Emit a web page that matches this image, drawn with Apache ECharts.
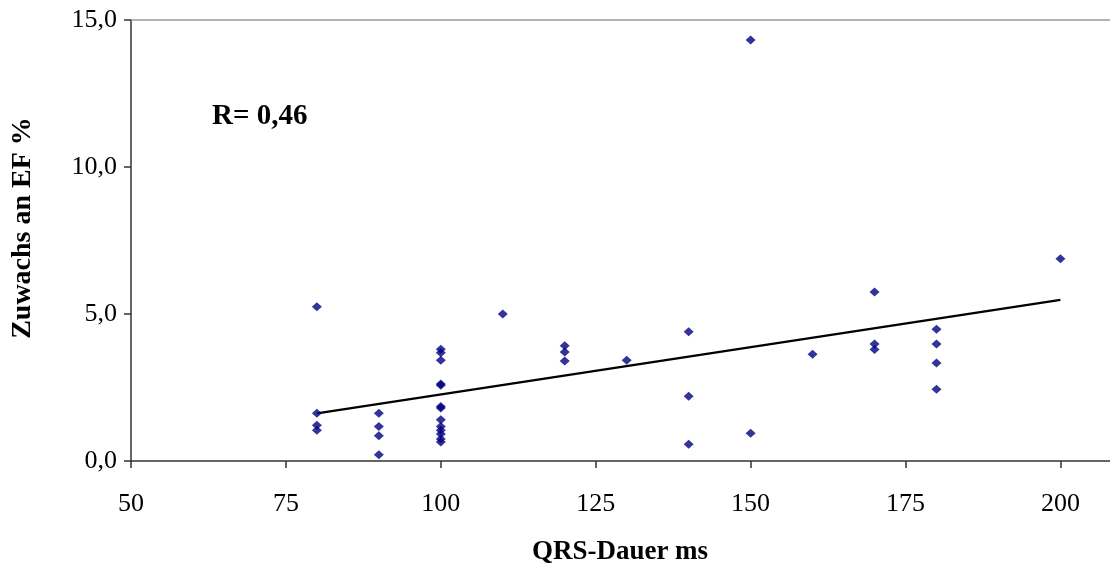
<!DOCTYPE html>
<html>
<head>
<meta charset="utf-8">
<script src="https://cdn.jsdelivr.net/npm/echarts@6/dist/echarts.min.js"></script>
<style>html,body{margin:0;padding:0;background:#fff}#c{width:1110px;height:567px}</style>
</head>
<body>
<div id="c"></div>
<script>
// QRS duration (ms) per patient
const xValues = [80,80,80,80, 90,90,90,90,
  100,100,100,100,100,100,100,100,100,100,100,100,100,
  110, 120,120,120, 130, 140,140,140, 150,150, 160,
  170,170,170, 180,180,180,180, 200];
// Increase in EF (%)
const yValues = [5.25,1.62,1.22,1.05, 1.62,1.17,0.86,0.21,
  3.80,3.68,3.43,2.62,2.58,1.85,1.80,1.40,1.17,1.05,0.92,0.75,0.65,
  5.00, 3.92,3.71,3.40, 3.43, 4.40,2.20,0.57, 14.32,0.94, 3.63,
  5.75,3.98,3.79, 4.48,3.98,3.33,2.44, 6.88];
// Linear trend line endpoints
const trendX = [80, 200];
const trendY = [1.62, 5.48];
const xTicks = [50, 75, 100, 125, 150, 175, 200];
const yTicks = [0, 5, 10, 15];
const rLabel = 'R= 0,46';
const xTitle = 'QRS-Dauer ms';
const yTitle = 'Zuwachs an EF %';

const font = "'Liberation Serif','Times New Roman',serif";
const points = xValues.map((x, i) => [x, yValues[i]]);
const trend = trendX.map((x, i) => [x, trendY[i]]);

const chart = echarts.init(document.getElementById('c'));
chart.setOption({
  animation: false,
  grid: {left: 131, right: 0, top: 20, bottom: 106, containLabel: false, outerBoundsMode: 'none'},
  xAxis: {
    type: 'value', min: 50, max: 208, interval: 25,
    axisLine: {show: true, onZero: false, lineStyle: {color: '#333', width: 1.5}},
    axisTick: {show: true, length: 7, lineStyle: {color: '#333', width: 1.5}},
    axisLabel: {
      fontFamily: font, fontSize: 26, color: '#000', margin: 30,
      showMaxLabel: false,
      formatter: v => xTicks.includes(v) ? String(v) : ''
    },
    splitLine: {show: false}
  },
  yAxis: {
    type: 'value', min: 0, max: 15, interval: 5,
    axisLine: {show: true, lineStyle: {color: '#333', width: 1.5}},
    axisTick: {show: true, length: 7, lineStyle: {color: '#333', width: 1.5}},
    axisLabel: {
      fontFamily: font, fontSize: 26, color: '#000', margin: 14,
      formatter: v => yTicks.includes(v) ? v.toFixed(1).replace('.', ',') : ''
    },
    splitLine: {show: false}
  },
  graphic: [{
    type: 'text', left: 212, top: 102,
    style: {text: rLabel, fontFamily: font, fontWeight: 'bold', fontSize: 29, fill: '#000'}
  }, {
    type: 'text', x: 23, y: 228, rotation: Math.PI / 2,
    style: {text: yTitle, fontFamily: font, fontWeight: 'bold', fontSize: 28, fill: '#000',
      align: 'center', verticalAlign: 'middle'}
  }, {
    type: 'text', x: 620, y: 552,
    style: {text: xTitle, fontFamily: font, fontWeight: 'bold', fontSize: 27, fill: '#000',
      align: 'center', verticalAlign: 'middle'}
  }],
  series: [
    {
      type: 'scatter', data: points, symbol: 'diamond', symbolSize: [10, 9],
      itemStyle: {color: '#000080'}, z: 3,
      markLine: {
        silent: true, symbol: 'none', label: {show: false},
        lineStyle: {color: '#999', width: 1.5, type: 'solid'},
        data: [{yAxis: 15}]
      }
    },
    {
      type: 'line', data: trend, showSymbol: false, symbol: 'none',
      lineStyle: {color: '#000', width: 2.5}, z: 2
    }
  ]
});
</script>
</body>
</html>
